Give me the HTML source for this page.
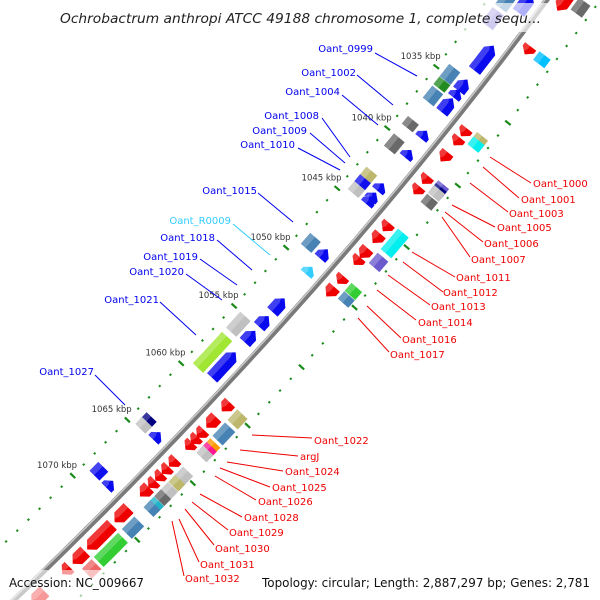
<!DOCTYPE html>
<html><head><meta charset="utf-8"><style>
html,body{margin:0;padding:0;background:#fff;width:600px;height:600px;overflow:hidden;}
svg{display:block;font-family:"DejaVu Sans","Liberation Sans",sans-serif;}
</style></head><body>
<svg id="chart" width="600" height="600" viewBox="0 0 600 600" xmlns="http://www.w3.org/2000/svg">
<g id="features"></g>
<g id="ticks"></g>
<g id="leaders" font-size="10">
<g stroke="#0000ee" stroke-width="1">
<line x1="375" y1="53" x2="417" y2="76"/><line x1="357" y1="75" x2="393" y2="105"/>
<line x1="342" y1="95" x2="378" y2="125"/><line x1="322" y1="118" x2="350" y2="157"/>
<line x1="310" y1="133" x2="345" y2="163"/><line x1="298" y1="148" x2="340" y2="170"/>
<line x1="258" y1="193" x2="293" y2="222"/><line x1="217" y1="240" x2="252" y2="270"/>
<line x1="200" y1="259" x2="237" y2="285"/><line x1="186" y1="274" x2="222" y2="300"/>
<line x1="160" y1="302" x2="196" y2="335"/><line x1="95" y1="375" x2="125" y2="405"/>
</g>
<line x1="233" y1="224" x2="270" y2="255" stroke="#33ccff"/>
<g fill="#0000ee" text-anchor="end">
<text x="373" y="52">Oant_0999</text>
<text x="356" y="76">Oant_1002</text>
<text x="340" y="95">Oant_1004</text>
<text x="319" y="119">Oant_1008</text>
<text x="307" y="134">Oant_1009</text>
<text x="295" y="148">Oant_1010</text>
<text x="257" y="194">Oant_1015</text>
<text x="231" y="224" fill="#33ccff">Oant_R0009</text>
<text x="215" y="241">Oant_1018</text>
<text x="198" y="260">Oant_1019</text>
<text x="184" y="275">Oant_1020</text>
<text x="159" y="303">Oant_1021</text>
<text x="94" y="375">Oant_1027</text>
</g>
<g stroke="#ee0000" stroke-width="1">
<line x1="531" y1="183" x2="490" y2="157"/><line x1="519" y1="198" x2="483" y2="167"/>
<line x1="508" y1="212" x2="470" y2="183"/><line x1="495" y1="227" x2="452" y2="205"/>
<line x1="483" y1="242" x2="445" y2="212"/><line x1="470" y1="257" x2="442" y2="217"/>
<line x1="455" y1="277" x2="412" y2="252"/><line x1="443" y1="292" x2="403" y2="262"/>
<line x1="430" y1="305" x2="388" y2="275"/><line x1="416" y1="320" x2="377" y2="290"/>
<line x1="401" y1="338" x2="367" y2="306"/><line x1="389" y1="352" x2="358" y2="318"/>
<line x1="312" y1="438" x2="252" y2="435"/><line x1="298" y1="456" x2="240" y2="450"/>
<line x1="283" y1="471" x2="227" y2="462"/><line x1="270" y1="487" x2="220" y2="468"/>
<line x1="256" y1="500" x2="215" y2="476"/><line x1="242" y1="517" x2="200" y2="494"/>
<line x1="228" y1="530" x2="192" y2="502"/><line x1="214" y1="545" x2="185" y2="509"/>
<line x1="199" y1="562" x2="179" y2="519"/><line x1="184" y1="576" x2="172" y2="521"/>
</g>
<g fill="#ee0000">
<text x="533" y="187">Oant_1000</text>
<text x="521" y="203">Oant_1001</text>
<text x="509" y="217">Oant_1003</text>
<text x="497" y="231">Oant_1005</text>
<text x="484" y="247">Oant_1006</text>
<text x="471" y="263">Oant_1007</text>
<text x="456" y="281">Oant_1011</text>
<text x="443" y="296">Oant_1012</text>
<text x="431" y="310">Oant_1013</text>
<text x="418" y="326">Oant_1014</text>
<text x="402" y="343">Oant_1016</text>
<text x="390" y="358">Oant_1017</text>
<text x="314" y="444">Oant_1022</text>
<text x="300" y="460">argJ</text>
<text x="285" y="475">Oant_1024</text>
<text x="272" y="491">Oant_1025</text>
<text x="258" y="505">Oant_1026</text>
<text x="244" y="521">Oant_1028</text>
<text x="229" y="536">Oant_1029</text>
<text x="215" y="552">Oant_1030</text>
<text x="200" y="568">Oant_1031</text>
<text x="185" y="582">Oant_1032</text>
</g>
</g>
<rect x="55" y="3" width="494" height="29" fill="#fff" opacity="0.68"/>
<text x="60" y="23" font-size="13" font-style="italic" fill="#222" textLength="481" lengthAdjust="spacingAndGlyphs">Ochrobactrum anthropi ATCC 49188 chromosome 1, complete sequ...</text>
<rect x="0" y="570" width="150" height="30" fill="#fff" opacity="0.6"/>
<text x="9" y="587" font-size="12" fill="#111" textLength="135" lengthAdjust="spacingAndGlyphs">Accession: NC_009667</text>
<text x="262" y="587" font-size="12" fill="#111" textLength="328" lengthAdjust="spacingAndGlyphs">Topology: circular; Length: 2,887,297 bp; Genes: 2,781</text>
</svg>
<script>
const fwdStart=[1027.75,1031.8,1034.5,1035.4,1036.0,1038.68,1040.2,1042.97,1043.8,1044.1,1048.42,1052.57,1054.08,1055.35,1057.2,1064.18,1068.53];
const fwdEnd=[1029.05,1033.63,1035.25,1035.7,1036.97,1039.04,1040.65,1043.37,1044.05,1044.42,1049.02,1053.57,1054.83,1056.18,1059.25,1064.68,1068.93];
const trnaStart=[1049.98];
const trnaEnd=[1050.28];
const leftBoxStart=[1028.6,1029.9,1034.43,1035.6,1036.18,1038.7,1040.08,1042.82,1043.56,1044.02,1048.36,1055.09,1056.83,1063.9,1064.3,1068.3];
const leftBoxEnd=[1029.5,1030.9,1035.27,1035.75,1037.0,1039.07,1040.92,1043.38,1043.81,1044.52,1049.12,1056.29,1059.41,1064.3,1064.75,1068.94];
const leftBoxColor=["#4682b4","#6a5acd","#4682b4","#228b22","#4682b4","#696969","#696969","#bdb76b","#1010ee","#c0c0c0","#4682b4","#c0c0c0","#a0e632","#000080","#c0c0c0","#1010ee"];
const revStart=[1026.5,1030.52,1036.97,1037.75,1038.86,1040.82,1041.64,1044.63,1045.51,1046.72,1047.57,1049.15,1049.94,1059.78,1061.05,1062.17,1062.85,1063.34,1064.71,1065.5,1066.0,1066.7,1067.2,1069.04,1070.54,1072.93,1074.32,1076.53];
const revEnd=[1027.5,1030.82,1037.37,1038.05,1039.43,1041.22,1042.1,1045.13,1046.11,1047.35,1047.82,1049.4,1050.57,1060.38,1061.8,1062.67,1063.1,1063.64,1065.21,1065.75,1066.45,1067.0,1067.85,1070.14,1072.59,1073.88,1074.82,1077.53];
const rightBoxStart=[1026.2,1030.35,1036.8,1037.1,1040.7,1040.95,1041.15,1041.69,1044.54,1045.23,1046.52,1049.04,1049.76,1059.78,1060.91,1062.3,1062.7,1062.95,1064.75,1065.55,1066.12,1066.82,1067.45,1067.8,1069.17,1070.63,1072.98];
const rightBoxEnd=[1026.95,1030.85,1037.1,1037.5,1040.95,1041.15,1041.3,1042.19,1045.14,1046.07,1047.22,1049.54,1050.16,1060.53,1061.91,1062.7,1062.95,1063.35,1065.4,1065.85,1066.82,1067.15,1067.8,1068.1,1070.12,1072.63,1073.68];
const rightBoxColor=["#696969","#00bfff","#bdb76b","#00eeee","#6a5acd","#000080","#c0c0c0","#696969","#00eeee","#00eeee","#6a5acd","#32cd32","#4682b4","#bdb76b","#4682b4","#ff9900","#ff1493","#c0c0c0","#c0c0c0","#bdb76b","#c0c0c0","#696969","#20b2c8","#4682b4","#4682b4","#32cd32","#ee6666"];
const tickKbp=[];for(let k=1025;k<=1079;k++)tickKbp.push(k);
const majorTicks=[1035,1040,1045,1050,1055,1060,1065,1070];
const majorLabels=["1035 kbp","1040 kbp","1045 kbp","1050 kbp","1055 kbp","1060 kbp","1065 kbp","1070 kbp"];

const NS="http://www.w3.org/2000/svg";
const P0=[548,-2],C1=[328,298],P2=[16,598];
function bez(t){const u=1-t;return [u*u*P0[0]+2*u*t*C1[0]+t*t*P2[0],u*u*P0[1]+2*u*t*C1[1]+t*t*P2[1]];}
function der(t){return [2*(1-t)*(C1[0]-P0[0])+2*t*(P2[0]-C1[0]),2*(1-t)*(C1[1]-P0[1])+2*t*(P2[1]-C1[1])];}
function proj(p){return -0.72*p[0]+0.69*p[1];}
function tOf(k){const a=-274.8+(k-1035)*15.7;let lo=-0.3,hi=1.3;for(let i=0;i<40;i++){const m=(lo+hi)/2;if(proj(bez(m))<a)lo=m;else hi=m;}return (lo+hi)/2;}
function pt(k,d){const t=tOf(k),p=bez(t),dv=der(t),L=Math.hypot(dv[0],dv[1]);const T=[dv[0]/L,dv[1]/L];return [p[0]-T[1]*d,p[1]+T[0]*d];}
function edge(s,e,d){const pts=[];const n=Math.max(2,Math.ceil((e-s)*3));for(let i=0;i<=n;i++)pts.push(pt(s+(e-s)*i/n,d));return pts;}
function shape(s,e,d1,d2,head){const h=Math.min(0.42,(e-s)*0.6);let pts=[];
 if(head===0){pts=edge(s,e,d1).concat(edge(s,e,d2).reverse());}
 else if(head===-1){const b=s+h;pts=[pt(s,(d1+d2)/2)].concat(edge(b,e,d1)).concat(edge(b,e,d2).reverse());}
 else {const b=e-h;pts=edge(s,b,d1).concat([pt(e,(d1+d2)/2)]).concat(edge(s,b,d2).reverse());}
 return pts.map(p=>p[0].toFixed(1)+","+p[1].toFixed(1)).join(" ");}
const fg=document.getElementById('features');
function poly(parent,pts,fill,op){const el=document.createElementNS(NS,'polygon');el.setAttribute('points',pts);el.setAttribute('fill',fill);if(op!==undefined)el.setAttribute('opacity',op);parent.appendChild(el);return el;}
function feature(s0,e0,d1,d2,head,col,name){
 let s=s0-0.08,e=e0+0.08;const minL=0.62;if(e-s<minL){const c=(s+e)/2;s=c-minL/2;e=c+minL/2;}
 const g=document.createElementNS(NS,'g');
 
 
 poly(g,shape(s,e,d1,d2,head),col);
 const dm=d1+(d2-d1)*0.55;poly(g,shape(s,e,dm,d2,head),'#ffffff',0.22);
 fg.appendChild(g);}
(function(){const g=document.createElementNS(NS,'g');
 
 
 function line(off,col,w){let d='';for(let i=0;i<=80;i++){const t=-0.05+1.1*i/80,p=bez(t),dv=der(t),L=Math.hypot(dv[0],dv[1]);const x=p[0]-dv[1]/L*off,y=p[1]+dv[0]/L*off;d+=(i?'L':'M')+x.toFixed(1)+' '+y.toFixed(1);}
  const el=document.createElementNS(NS,'path');el.setAttribute('d',d);el.setAttribute('stroke',col);el.setAttribute('stroke-width',w);el.setAttribute('fill','none');g.appendChild(el);}
 line(0,'#7a7a7a',5.5);line(1.6,'#c8c8c8',1.6);fg.appendChild(g);})();
for(let i=0;i<fwdStart.length;i++)feature(fwdStart[i],fwdEnd[i],8,22,-1,'#0a0aee','forward-gene-'+i);
for(let i=0;i<trnaStart.length;i++)feature(trnaStart[i],trnaEnd[i],8,22,-1,'#33ccff','trna-'+i);
for(let i=0;i<leftBoxStart.length;i++)feature(leftBoxStart[i],leftBoxEnd[i],25,39,0,leftBoxColor[i],'forward-cog-box-'+i);
for(let i=0;i<revStart.length;i++)feature(revStart[i],revEnd[i],-22,-8,1,'#ee0000','reverse-gene-'+i);
for(let i=0;i<rightBoxStart.length;i++)feature(rightBoxStart[i],rightBoxEnd[i],-39,-25,0,rightBoxColor[i],'reverse-cog-box-'+i);
const tg=document.getElementById('ticks');
function seg(k,da,db){const a=pt(k,da),b=pt(k,db);const el=document.createElementNS(NS,'line');
 el.setAttribute('x1',a[0]);el.setAttribute('y1',a[1]);el.setAttribute('x2',b[0]);el.setAttribute('y2',b[1]);
 el.setAttribute('stroke','#1a8a1a');el.setAttribute('stroke-width','2.2');
 
 
 tg.appendChild(el);}
for(const k of tickKbp){const maj=majorTicks.indexOf(k)>=0;
 if(maj){seg(k,44,51);seg(k,-40,-47);}else{seg(k,46.5,48.5);seg(k,-42.5,-44.5);}}
for(let i=0;i<majorTicks.length;i++){const p=pt(majorTicks[i],47);const el=document.createElementNS(NS,'text');
 el.setAttribute('x',(p[0]+4).toFixed(1));el.setAttribute('y',(p[1]-8).toFixed(1));el.setAttribute('text-anchor','end');
 el.setAttribute('font-size','8.5');el.setAttribute('fill','#333');el.textContent=majorLabels[i];
 
 
 tg.appendChild(el);}
</script>
</body></html>
